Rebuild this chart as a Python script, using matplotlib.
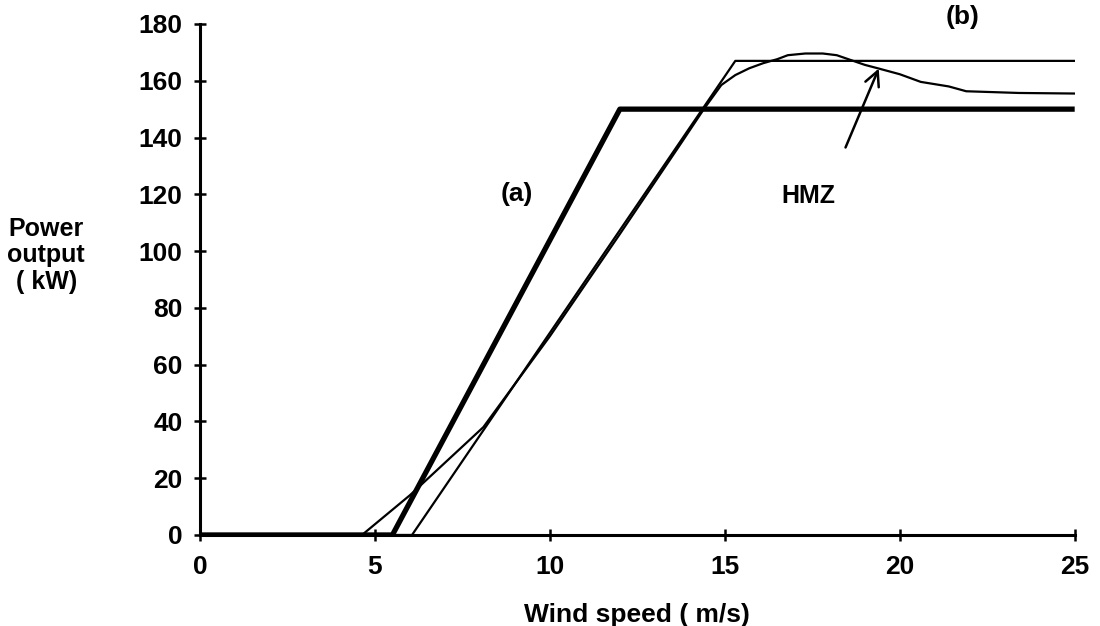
import matplotlib.pyplot as plt

# power curves: (a) thick ramp, (b) thin ramp, HMZ measured curve
wind_a = [0, 5.5, 12.0, 25]
power_a = [0, 0, 150, 150]

wind_b = [0, 6.06, 15.3, 25]
power_b = [0, 0, 167, 167]

wind_hmz = [0, 4.63, 6.0, 8.1, 10.0, 12.0, 13.75, 14.4, 14.9, 15.3, 15.7,
            16.1, 16.5, 16.8, 17.3, 17.8, 18.2, 18.6, 19.0, 19.4, 20.0,
            20.6, 21.4, 21.9, 23.4, 25]
power_hmz = [0, 0, 14, 38, 70, 106, 138, 150, 158.5, 162, 164.4,
             166.2, 167.6, 169.0, 169.6, 169.6, 169.0, 167.3, 165.6, 164.3, 162.3,
             159.6, 158, 156.3, 155.7, 155.5]

x_ticks = [0, 5, 10, 15, 20, 25]
y_ticks = list(range(0, 181, 20))

plt.rcParams['font.family'] = ['Liberation Sans', 'DejaVu Sans']
plt.rcParams['font.weight'] = 'bold'

fig = plt.figure(figsize=(11, 6.26), dpi=100)
ax = fig.add_axes([0.1818, 0.1454, 0.7952, 0.8163])

ax.plot(wind_hmz, power_hmz, color='black', lw=1.6, solid_joinstyle='round')
ax.plot(wind_b, power_b, color='black', lw=1.6)
ax.plot(wind_a, power_a, color='black', lw=3.8, solid_capstyle='butt')

ax.set_xlim(0, 25)
ax.set_ylim(0, 180)
ax.set_xticks(x_ticks)
ax.set_yticks(y_ticks)
ax.tick_params(direction='inout', length=9, width=1.8, labelsize=19, pad=8)
ax.tick_params(axis='x', pad=10)

for side in ['top', 'right']:
    ax.spines[side].set_visible(False)
for side in ['left', 'bottom']:
    ax.spines[side].set_linewidth(2.2)

ax.set_xlabel('Wind speed ( m/s)', fontsize=19, fontweight='bold', labelpad=17)
fig.text(0.042, 0.592, 'Power\noutput\n( kW)', fontsize=18, ha='center',
         va='center', linespacing=1.15)

ax.text(9.05, 120, '(a)', fontsize=19, ha='center', va='center')
ax.text(21.8, 182.5, '(b)', fontsize=19, ha='center', va='center', clip_on=False)
ax.text(17.4, 119.5, 'HMZ', fontsize=18, ha='center', va='center')
ax.annotate('', xy=(19.4, 164.3), xytext=(18.45, 136.5),
            arrowprops=dict(arrowstyle='->', color='black', lw=1.8,
                            shrinkA=0, shrinkB=0, mutation_scale=26))

fig.savefig('out.png', dpi=100)
